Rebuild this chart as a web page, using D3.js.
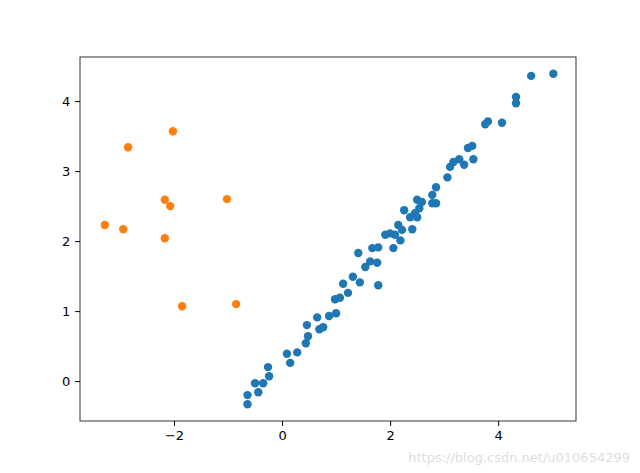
<!DOCTYPE html>
<html><head><meta charset="utf-8">
<script src="https://cdn.jsdelivr.net/npm/d3@7.9.0/dist/d3.min.js"></script>
<style>body{margin:0;background:#fff}text{font-family:"DejaVu Sans",sans-serif}</style>
</head><body><svg id="chart" width="640" height="473"></svg>
<script>
// blue cluster: [x, y]
const blueX = [-0.64,-0.64,-0.44,-0.50,-0.35,-0.24,-0.26,0.15,0.09,0.28,0.44,0.48,0.46,0.65,0.69,0.76,0.87,1.00,0.98,1.07,1.22,1.13,1.31,1.44,1.78,1.54,1.63,1.76,1.41,1.67,1.78,2.06,1.91,2.09,
  5.02,4.61,4.33,4.33,4.07,3.81,3.76,3.52,3.44,3.54,3.37,3.28,3.17,3.11,3.06,2.85,2.78,2.85,2.78,2.59,2.50,2.54,2.50,2.26,2.37,2.15,2.22,2.41,2.00,2.19,2.46];
const blueY = [-0.33,-0.20,-0.16,-0.03,-0.03,0.07,0.20,0.26,0.39,0.41,0.54,0.64,0.80,0.91,0.74,0.77,0.93,0.97,1.17,1.19,1.26,1.39,1.49,1.41,1.37,1.63,1.71,1.69,1.83,1.90,1.91,1.90,2.09,2.09,
  4.39,4.36,4.06,3.97,3.69,3.71,3.67,3.36,3.33,3.17,3.09,3.17,3.13,3.06,2.91,2.77,2.66,2.54,2.54,2.56,2.59,2.47,2.34,2.44,2.34,2.23,2.16,2.17,2.11,2.01,2.40];
// orange outliers
const orangeX = [-3.28,-2.94,-2.85,-2.17,-2.07,-2.02,-2.17,-1.85,-1.02,-0.85];
const orangeY = [2.23,2.17,3.34,2.59,2.50,3.57,2.04,1.07,2.60,1.10];
const xTicks = [-2,0,2,4];
const yTicks = [0,1,2,3,4];

const svg = d3.select('#chart');
const m = {left:80, right:576, top:57, bottom:421};
const x = d3.scaleLinear().domain([-3.74,5.44]).range([m.left,m.right]);
const y = d3.scaleLinear().domain([-0.57,4.63]).range([m.bottom,m.top]);

function dots(xs, ys, color) {
  svg.append('g').selectAll('circle').data(xs.map((v,i)=>[v,ys[i]])).join('circle')
    .attr('cx', d=>x(d[0])).attr('cy', d=>y(d[1])).attr('r', 4.2).attr('fill', color);
}
dots(blueX, blueY, '#1f77b4');
dots(orangeX, orangeY, '#ff7f0e');

const xa = svg.append('g').attr('transform', `translate(0,${m.bottom})`)
  .call(d3.axisBottom(x).tickValues(xTicks).tickSize(4.9).tickPadding(4.9).tickFormat(d3.format('d')));
const ya = svg.append('g').attr('transform', `translate(${m.left},0)`)
  .call(d3.axisLeft(y).tickValues(yTicks).tickSize(4.9).tickPadding(4.9).tickFormat(d3.format('d')));
[xa, ya].forEach(a => { a.select('.domain').remove(); a.selectAll('text').attr('font-size', 13).attr('fill','#000').style('font-family','DejaVu Sans'); });
svg.append('rect').attr('x', m.left).attr('y', m.top).attr('width', m.right-m.left).attr('height', m.bottom-m.top)
  .attr('fill','none').attr('stroke','#000').attr('stroke-width',0.8);
svg.append('text').attr('x', 630).attr('y', 462).attr('text-anchor','end').attr('font-size', 13)
  .attr('fill','#ddd').text('https://blog.csdn.net/u010654299');
</script></body></html>
